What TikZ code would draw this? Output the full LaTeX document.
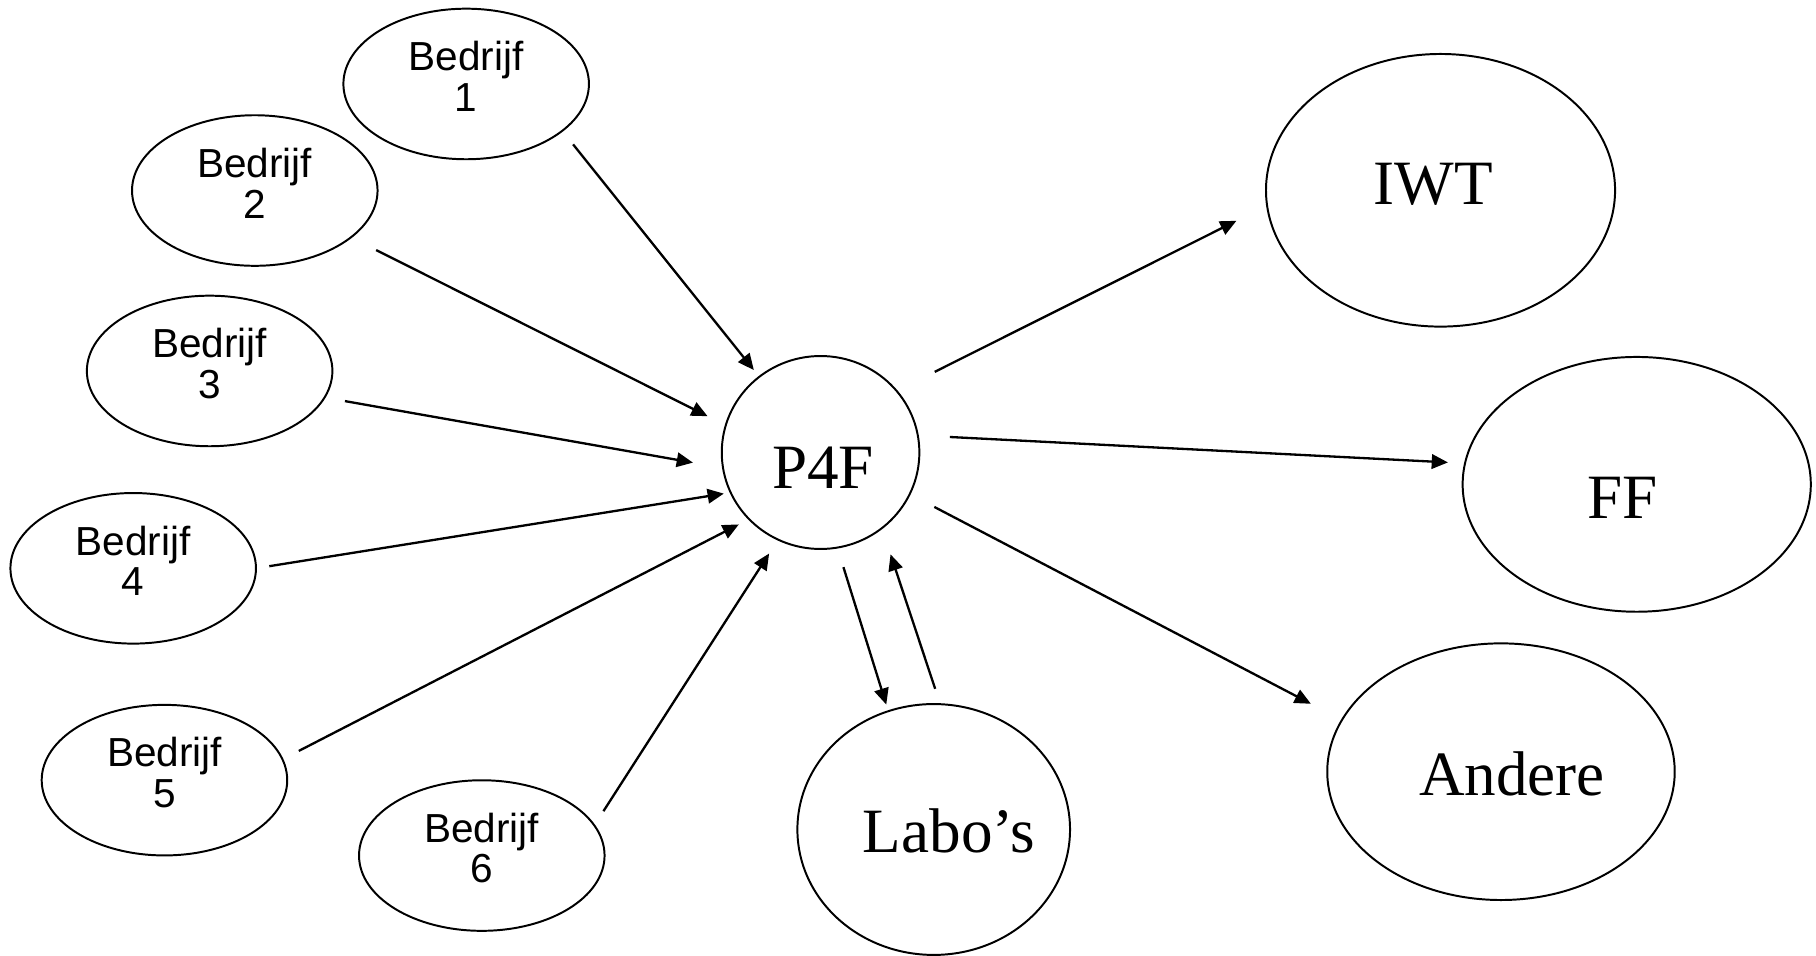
\documentclass[tikz,border=0pt]{standalone}
\usepackage{fontspec}
\setmainfont{Liberation Serif}
\newfontfamily\arialfont{Liberation Sans}
\usetikzlibrary{shapes.geometric,arrows.meta}
\begin{document}
\begin{tikzpicture}[x=1pt,y=-1pt,
  bedrijf/.style={draw, ellipse, line width=1.7pt, minimum width=212pt, minimum height=130pt, inner sep=0pt, outer sep=0pt},
  btext/.style={font=\arialfont\fontsize{35}{35.2}\selectfont, align=center, inner sep=0pt},
  big/.style={draw, ellipse, line width=1.7pt, inner sep=0pt, outer sep=0pt},
  stext/.style={font=\fontsize{54.5}{60}\selectfont, inner sep=0pt},
  arr/.style={-{Triangle[length=14pt,width=12.5pt]}, line width=2pt}]
\useasboundingbox (0,0) rectangle (1568,825);

\node[bedrijf, label={[btext,yshift=6.5pt]center:{Bedrijf\\1}}] (b1) at (402.5,72.5) {};
\node[bedrijf, label={[btext,yshift=6.5pt]center:{Bedrijf\\2}}] (b2) at (220,164.5) {};
\node[bedrijf, label={[btext,yshift=6.5pt]center:{Bedrijf\\3}}] (b3) at (181,320.3) {};
\node[bedrijf, label={[btext,yshift=6.5pt]center:{Bedrijf\\4}}] (b4) at (115,490.7) {};
\node[bedrijf, label={[btext,yshift=6.5pt]center:{Bedrijf\\5}}] (b5) at (142,673.6) {};
\node[bedrijf, label={[btext,yshift=6.5pt]center:{Bedrijf\\6}}] (b6) at (416,738.7) {};

\node[big, minimum width=170.6pt, minimum height=166.6pt, label={[stext,xshift=2pt,yshift=-13pt]center:P4F}] (p4f) at (708.5,390.7) {};
\node[big, minimum width=301.4pt, minimum height=235.4pt, label={[stext,xshift=-6.5pt,yshift=5pt]center:IWT}] (iwt) at (1243.8,164.3) {};
\node[big, minimum width=300.6pt, minimum height=220pt, label={[stext,xshift=-12pt,yshift=-11.4pt]center:FF}] (ff) at (1413.2,418.2) {};
\node[big, minimum width=300pt, minimum height=221.6pt, label={[stext,xshift=9.5pt,yshift=-2pt]center:Andere}] (andere) at (1296,666.3) {};
\node[big, minimum width=235.4pt, minimum height=216.6pt, label={[stext,xshift=13pt,yshift=-1pt]center:Labo’s}] (labo) at (806.2,716.2) {};

\draw[arr, shorten <=15pt, shorten >=7.5pt] (b1.-26.5) -- (p4f.129.8);
\draw[arr, shorten <=24.4pt, shorten >=17.6pt] (b2.-26.5) -- (p4f.164.4);
\draw[arr, shorten <=17.9pt, shorten >=26.4pt] (b3.-13.4) -- (p4f.-171.5);
\draw[arr, shorten <=11.65pt, shorten >=6pt] (b4.-0.9) -- (p4f.-156.2);
\draw[arr, shorten <=15.9pt, shorten >=10pt] (b5.10.6) -- (p4f.-137.9);
\draw[arr, shorten <=14.6pt, shorten >=14.3pt] (b6.15.9) -- (p4f.-116.5);
\draw[arr, shorten <=17.7pt, shorten >=6pt] (p4f.-80.6) -- (labo.111.1);
\draw[arr, shorten <=14pt, shorten >=23.8pt] (labo.87.6) -- (p4f.-51.4);
\draw[arr, shorten <=36.8pt, shorten >=29.6pt] (p4f.39.7) -- (iwt.-175.2);
\draw[arr, shorten <=27.7pt, shorten >=14.8pt] (p4f.10.4) -- (ff.173.35);
\draw[arr, shorten <=24pt, shorten >=30.3pt] (p4f.-25.7) -- (andere.162.3);
\end{tikzpicture}
\end{document}
